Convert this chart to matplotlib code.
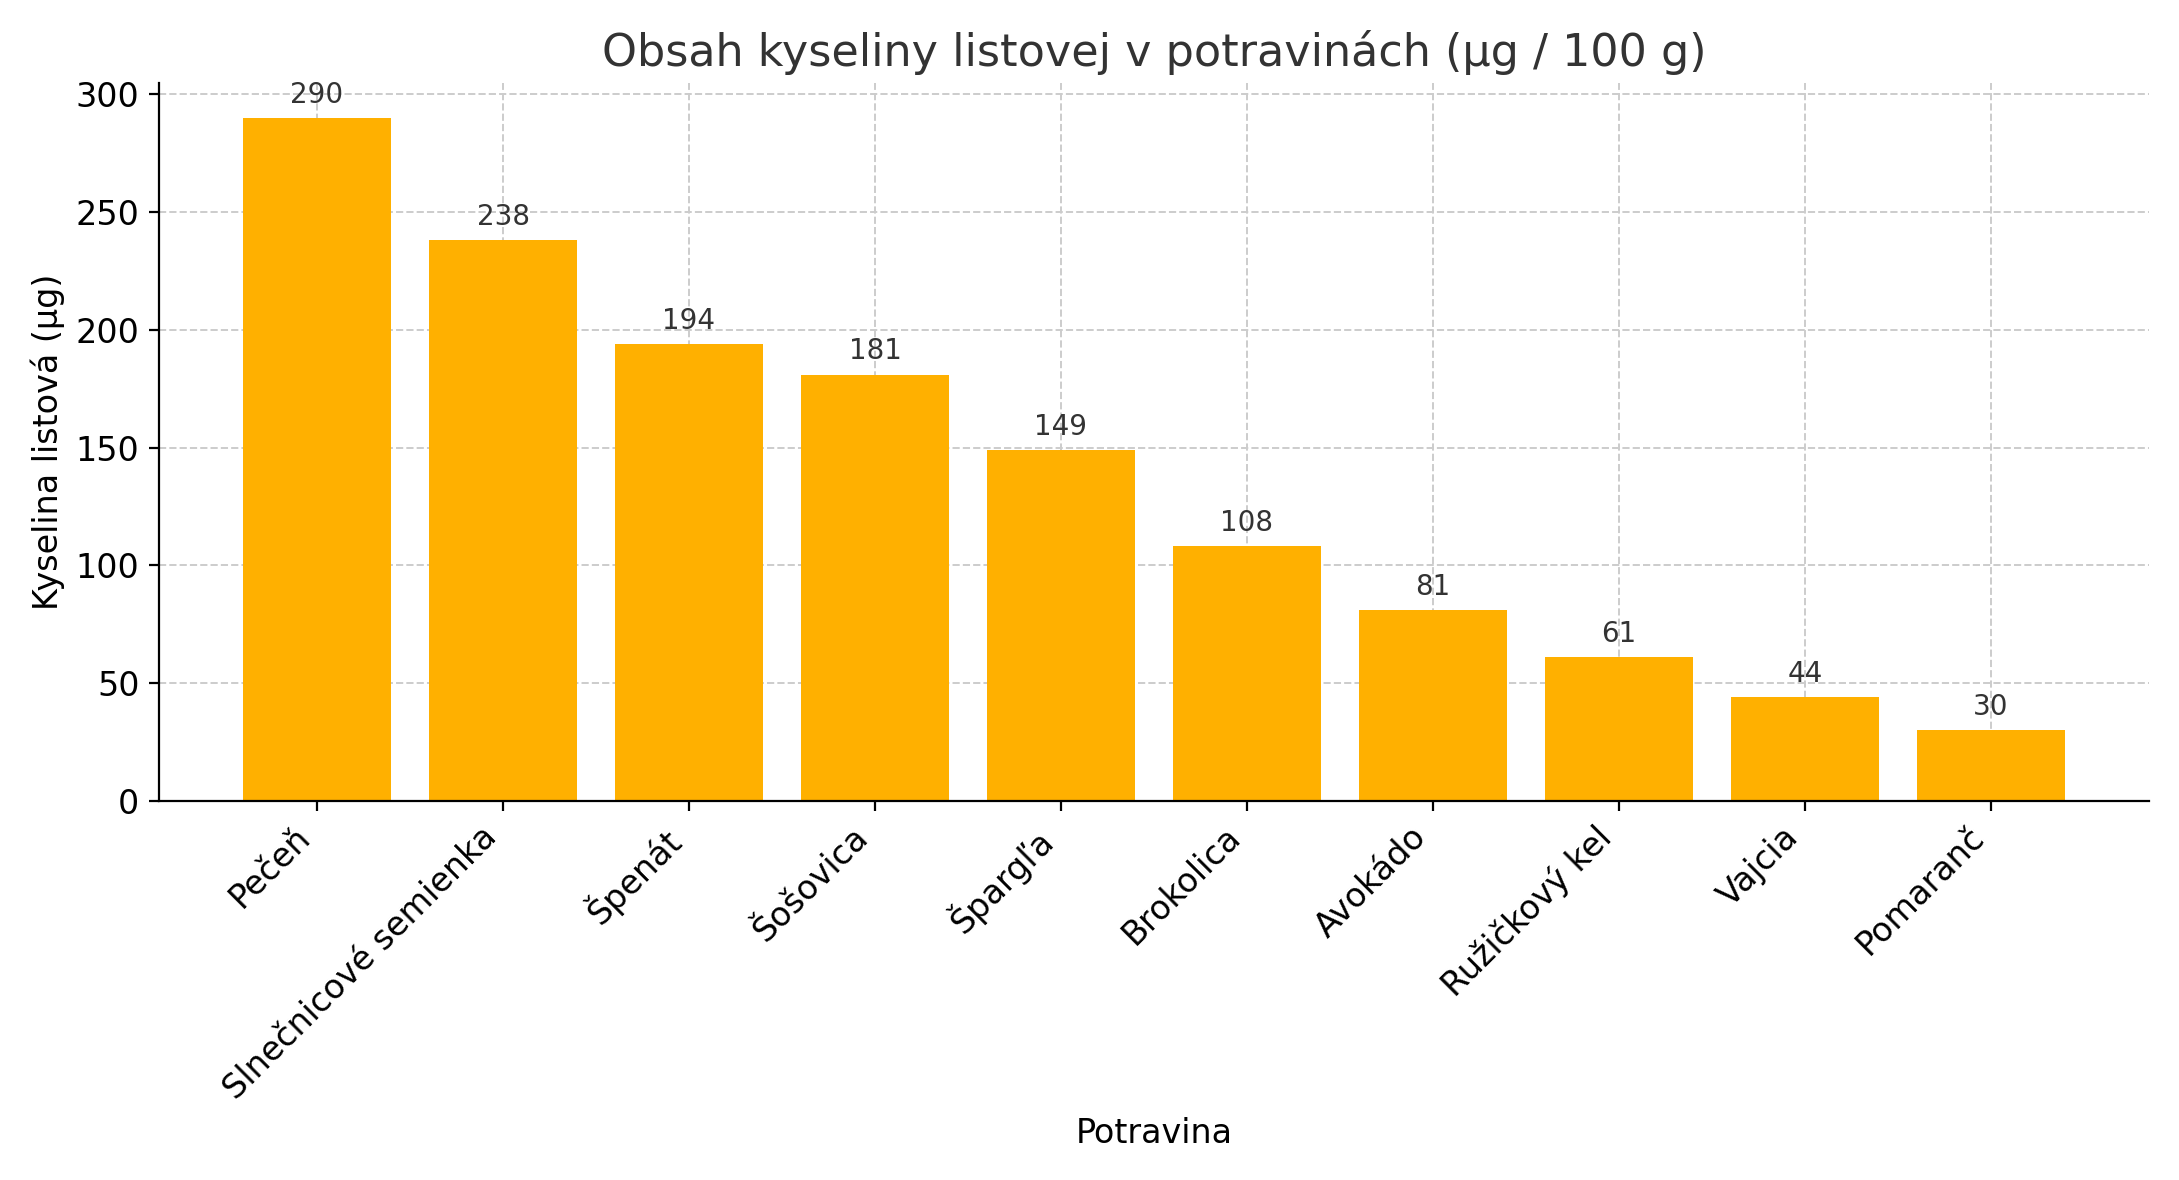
import matplotlib.pyplot as plt

potraviny = ["Pečeň", "Slnečnicové semienka", "Špenát", "Šošovica", "Špargľa",
             "Brokolica", "Avokádo", "Ružičkový kel", "Vajcia", "Pomaranč"]
folat = [290, 238, 194, 181, 149, 108, 81, 61, 44, 30]

fig, ax = plt.subplots(figsize=(10.895, 5.9), dpi=200)
bars = ax.bar(potraviny, folat, color="#FFB000", width=0.8, zorder=2)
for b, v in zip(bars, folat):
    ax.text(b.get_x() + b.get_width() / 2, v + 4, str(v), ha="center", va="bottom",
            fontsize=10, color="#333333")

ax.set_title("Obsah kyseliny listovej v potravinách (µg / 100 g)", fontsize=16, color="#333333")
ax.set_xlabel("Potravina", fontsize=12)
ax.set_ylabel("Kyselina listová (µg)", fontsize=12)
ax.set_ylim(0, 305)
ax.set_xlim(-0.85, 9.85)
ax.grid(True, linestyle="--", color="#cccccc", linewidth=0.7, zorder=0)
ax.spines["top"].set_visible(False)
ax.spines["right"].set_visible(False)
plt.xticks(rotation=45, ha="right", fontsize=12)
plt.yticks(fontsize=12)
plt.tight_layout()
plt.savefig("out.png", dpi=200)
